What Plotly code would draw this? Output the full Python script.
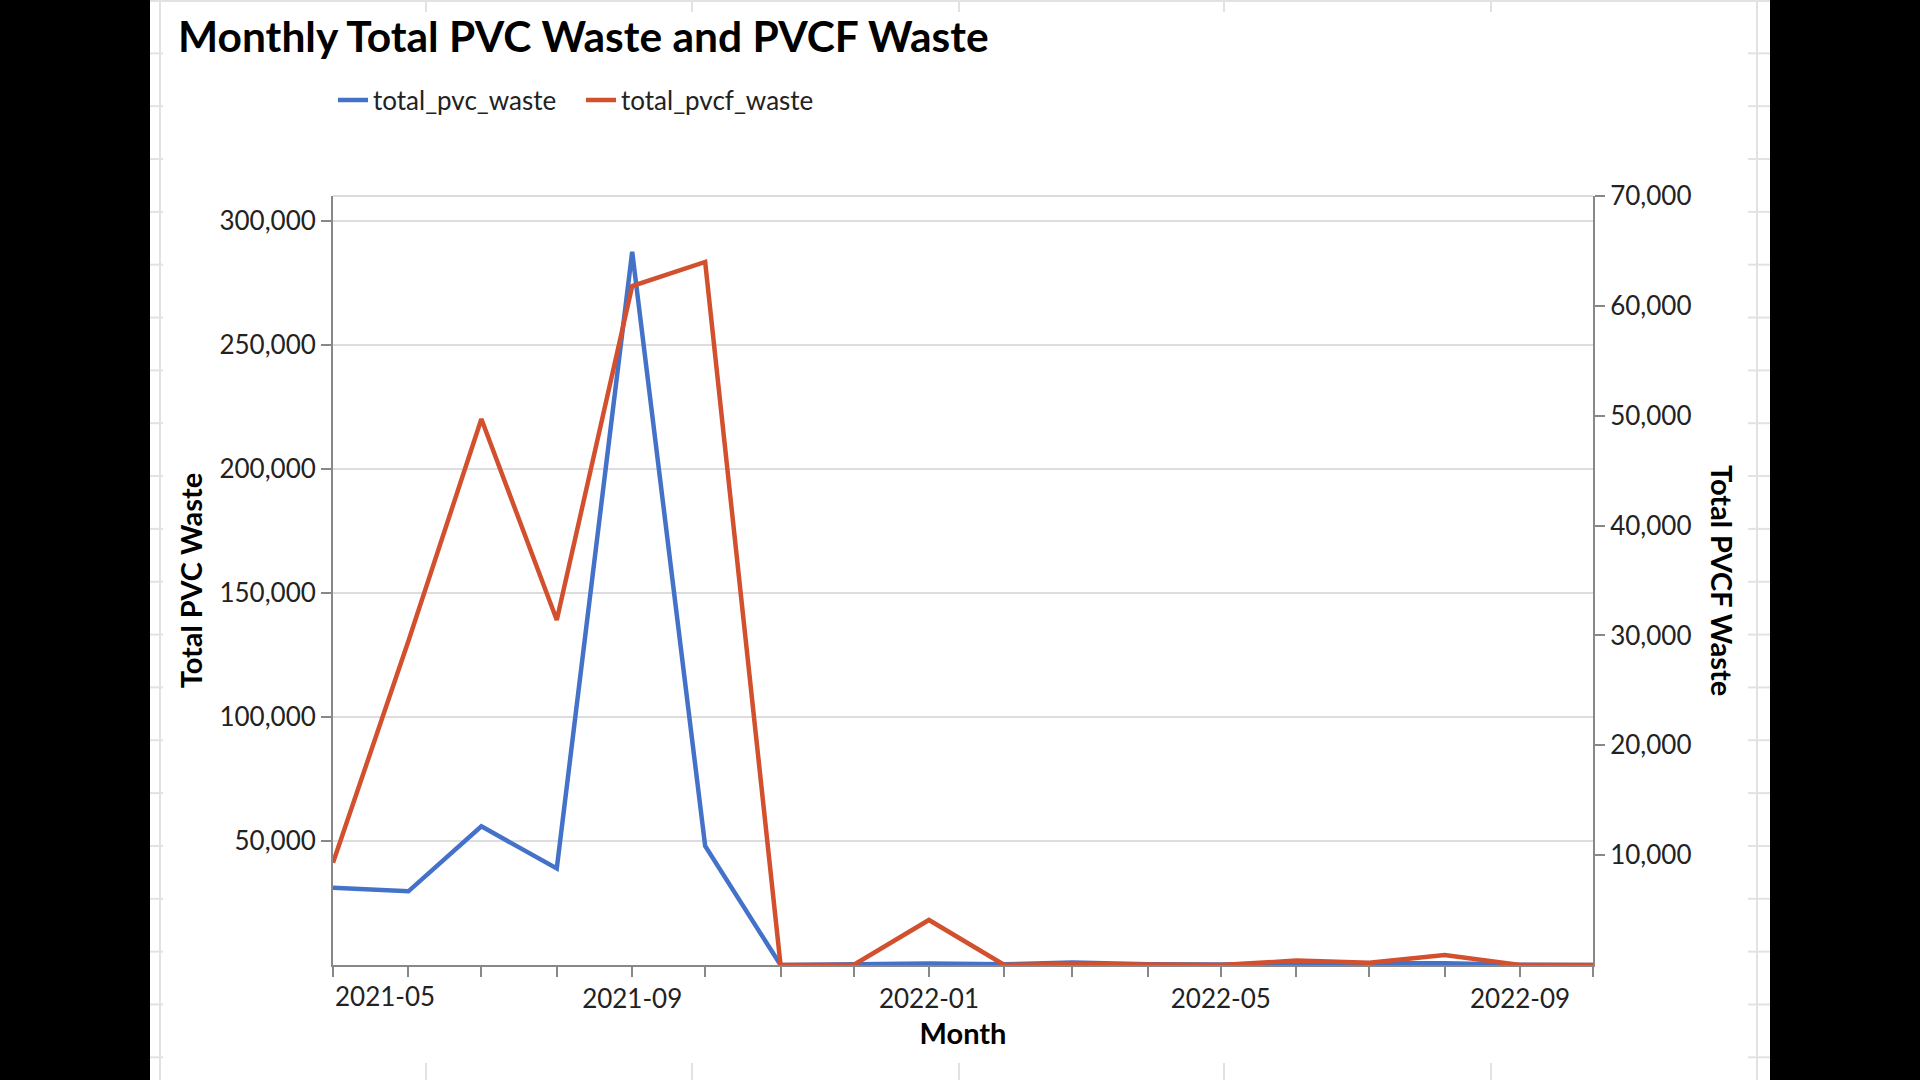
import plotly.graph_objects as go

# ---------------- data ----------------
months = [
    "2021-05-01", "2021-06-01", "2021-07-01", "2021-08-01", "2021-09-01", "2021-10-01",
    "2021-11-01", "2021-12-01", "2022-01-01", "2022-02-01", "2022-03-01", "2022-04-01",
    "2022-05-01", "2022-06-01", "2022-07-01", "2022-08-01", "2022-09-01", "2022-10-01",
]
total_pvc_waste = [31100, 29700, 55900, 38900, 287500, 48000,
                   0, 300, 600, 300, 1000, 300,
                   200, 700, 600, 700, 100, 0]
total_pvcf_waste = [9300, 29500, 49700, 31400, 61800, 64000,
                    0, 0, 4100, 0, 100, 0,
                    0, 400, 200, 900, 0, 0]
x_tick_text = ["2021-05", "", "", "", "2021-09", "", "", "", "2022-01", "", "", "",
               "2022-05", "", "", "", "2022-09", ""]
left_ticks = [50000, 100000, 150000, 200000, 250000, 300000]
right_ticks = [10000, 20000, 30000, 40000, 50000, 60000, 70000]

# ---------------- layout constants ----------------
W, H = 1920, 1080
PL, PR, PT, PB = 333, 1593, 196, 965
BLUE = "#4472C8"
RED = "#D2502D"
AXIS = "#888888"
GRID = "#dddddd"
DECO = "#e2e2e2"
FONT = "Lato"


def xp(px):
    return (px - PL) / (PR - PL)


def yp(py):
    return (PB - py) / (PB - PT)


fig = go.Figure()
fig.add_trace(go.Scatter(x=months, y=total_pvc_waste, mode="lines", name="total_pvc_waste",
                         line=dict(color=BLUE, width=4.5), yaxis="y"))
fig.add_trace(go.Scatter(x=months, y=total_pvcf_waste, mode="lines", name="total_pvcf_waste",
                         line=dict(color=RED, width=4.5), yaxis="y2"))

shapes = []
# black side bands
shapes.append(dict(type="rect", xref="paper", yref="paper", x0=xp(0), x1=xp(150),
                   y0=yp(H), y1=yp(0), fillcolor="black", line=dict(width=0), layer="above"))
shapes.append(dict(type="rect", xref="paper", yref="paper", x0=xp(1770), x1=xp(W),
                   y0=yp(H), y1=yp(0), fillcolor="black", line=dict(width=0), layer="above"))
# faint background sheet lines
for vx in (160, 1757):
    shapes.append(dict(type="line", xref="paper", yref="paper", x0=xp(vx), x1=xp(vx),
                       y0=yp(0), y1=yp(H), line=dict(color=DECO, width=2), layer="below"))
for k in range(0, 21):
    yy = 52.84 * k + 0.5
    shapes.append(dict(type="line", xref="paper", yref="paper", x0=xp(150), x1=xp(163),
                       y0=yp(yy), y1=yp(yy), line=dict(color=DECO, width=2), layer="below"))
    shapes.append(dict(type="line", xref="paper", yref="paper", x0=xp(1748), x1=xp(1770),
                       y0=yp(yy), y1=yp(yy), line=dict(color=DECO, width=2), layer="below"))
shapes.append(dict(type="line", xref="paper", yref="paper", x0=xp(150), x1=xp(1770),
                   y0=yp(1), y1=yp(1), line=dict(color=DECO, width=2), layer="below"))
for vx in (426, 692, 959, 1224, 1491):
    shapes.append(dict(type="line", xref="paper", yref="paper", x0=xp(vx), x1=xp(vx),
                       y0=yp(0), y1=yp(12), line=dict(color=DECO, width=2), layer="below"))
    shapes.append(dict(type="line", xref="paper", yref="paper", x0=xp(vx), x1=xp(vx),
                       y0=yp(1063), y1=yp(H), line=dict(color=DECO, width=2), layer="below"))
# top border of the view
shapes.append(dict(type="line", xref="paper", yref="paper", x0=0, x1=1, y0=1, y1=1,
                   line=dict(color=GRID, width=2), layer="below"))

annotations = [
    dict(text="Total PVCF Waste", textangle=90, xref="paper", yref="paper",
         x=xp(1723), y=yp(580), xanchor="center", yanchor="middle", showarrow=False,
         font=dict(family=FONT, size=29, color="#000", weight="bold")),
    dict(text=x_tick_text[0], xref="x", yref="paper", x=months[0], y=yp(996),
         xanchor="left", yanchor="middle", showarrow=False,
         font=dict(family=FONT, size=26, color="#222")),
]

fig.update_layout(
    width=W, height=H,
    margin=dict(l=PL, r=W - PR, t=PT, b=H - PB, autoexpand=False),
    paper_bgcolor="white", plot_bgcolor="white",
    font=dict(family=FONT, color="#222"),
    title=dict(text="Monthly Total PVC Waste and PVCF Waste", xref="container", yref="container",
               x=178 / W, xanchor="left", y=1 - 37 / H, yanchor="middle",
               font=dict(family=FONT, size=42.5, color="#000", weight="bold")),
    showlegend=True,
    legend=dict(orientation="h", x=xp(333), xanchor="left", y=yp(100), yanchor="middle",
                font=dict(family=FONT, size=26, color="#222"), bgcolor="rgba(0,0,0,0)",
                entrywidth=203, entrywidthmode="pixels"),
    xaxis=dict(type="date", range=[months[0], months[-1]], tickvals=months,
               ticktext=[""] + x_tick_text[1:], ticks="outside", ticklen=10, tickwidth=2,
               tickcolor=AXIS, showline=True, linecolor=AXIS, linewidth=2, showgrid=False,
               zeroline=False, tickfont=dict(family=FONT, size=26, color="#222"),
               title=dict(text="Month", standoff=10,
                          font=dict(family=FONT, size=29, color="#000", weight="bold"))),
    yaxis=dict(range=[0, 310000], tickvals=left_ticks, tickformat=",", ticks="outside",
               ticklen=10, tickwidth=2, tickcolor=AXIS, showline=True, linecolor=AXIS,
               linewidth=2, showgrid=True, gridcolor=GRID, gridwidth=2, zeroline=False,
               tickfont=dict(family=FONT, size=26, color="#222"),
               title=dict(text="Total PVC Waste", standoff=8,
                          font=dict(family=FONT, size=29, color="#000", weight="bold"))),
    yaxis2=dict(range=[0, 70000], tickvals=right_ticks, tickformat=",", overlaying="y",
                side="right", ticks="outside", ticklen=10, tickwidth=2, tickcolor=AXIS,
                showline=True, linecolor=AXIS, linewidth=2, showgrid=False, zeroline=False,
                tickfont=dict(family=FONT, size=26, color="#222")),
    shapes=shapes,
    annotations=annotations,
)

fig.write_html("out.html", config={"displayModeBar": False},
               post_script="document.body.style.margin='0';document.body.style.overflow='hidden';")
